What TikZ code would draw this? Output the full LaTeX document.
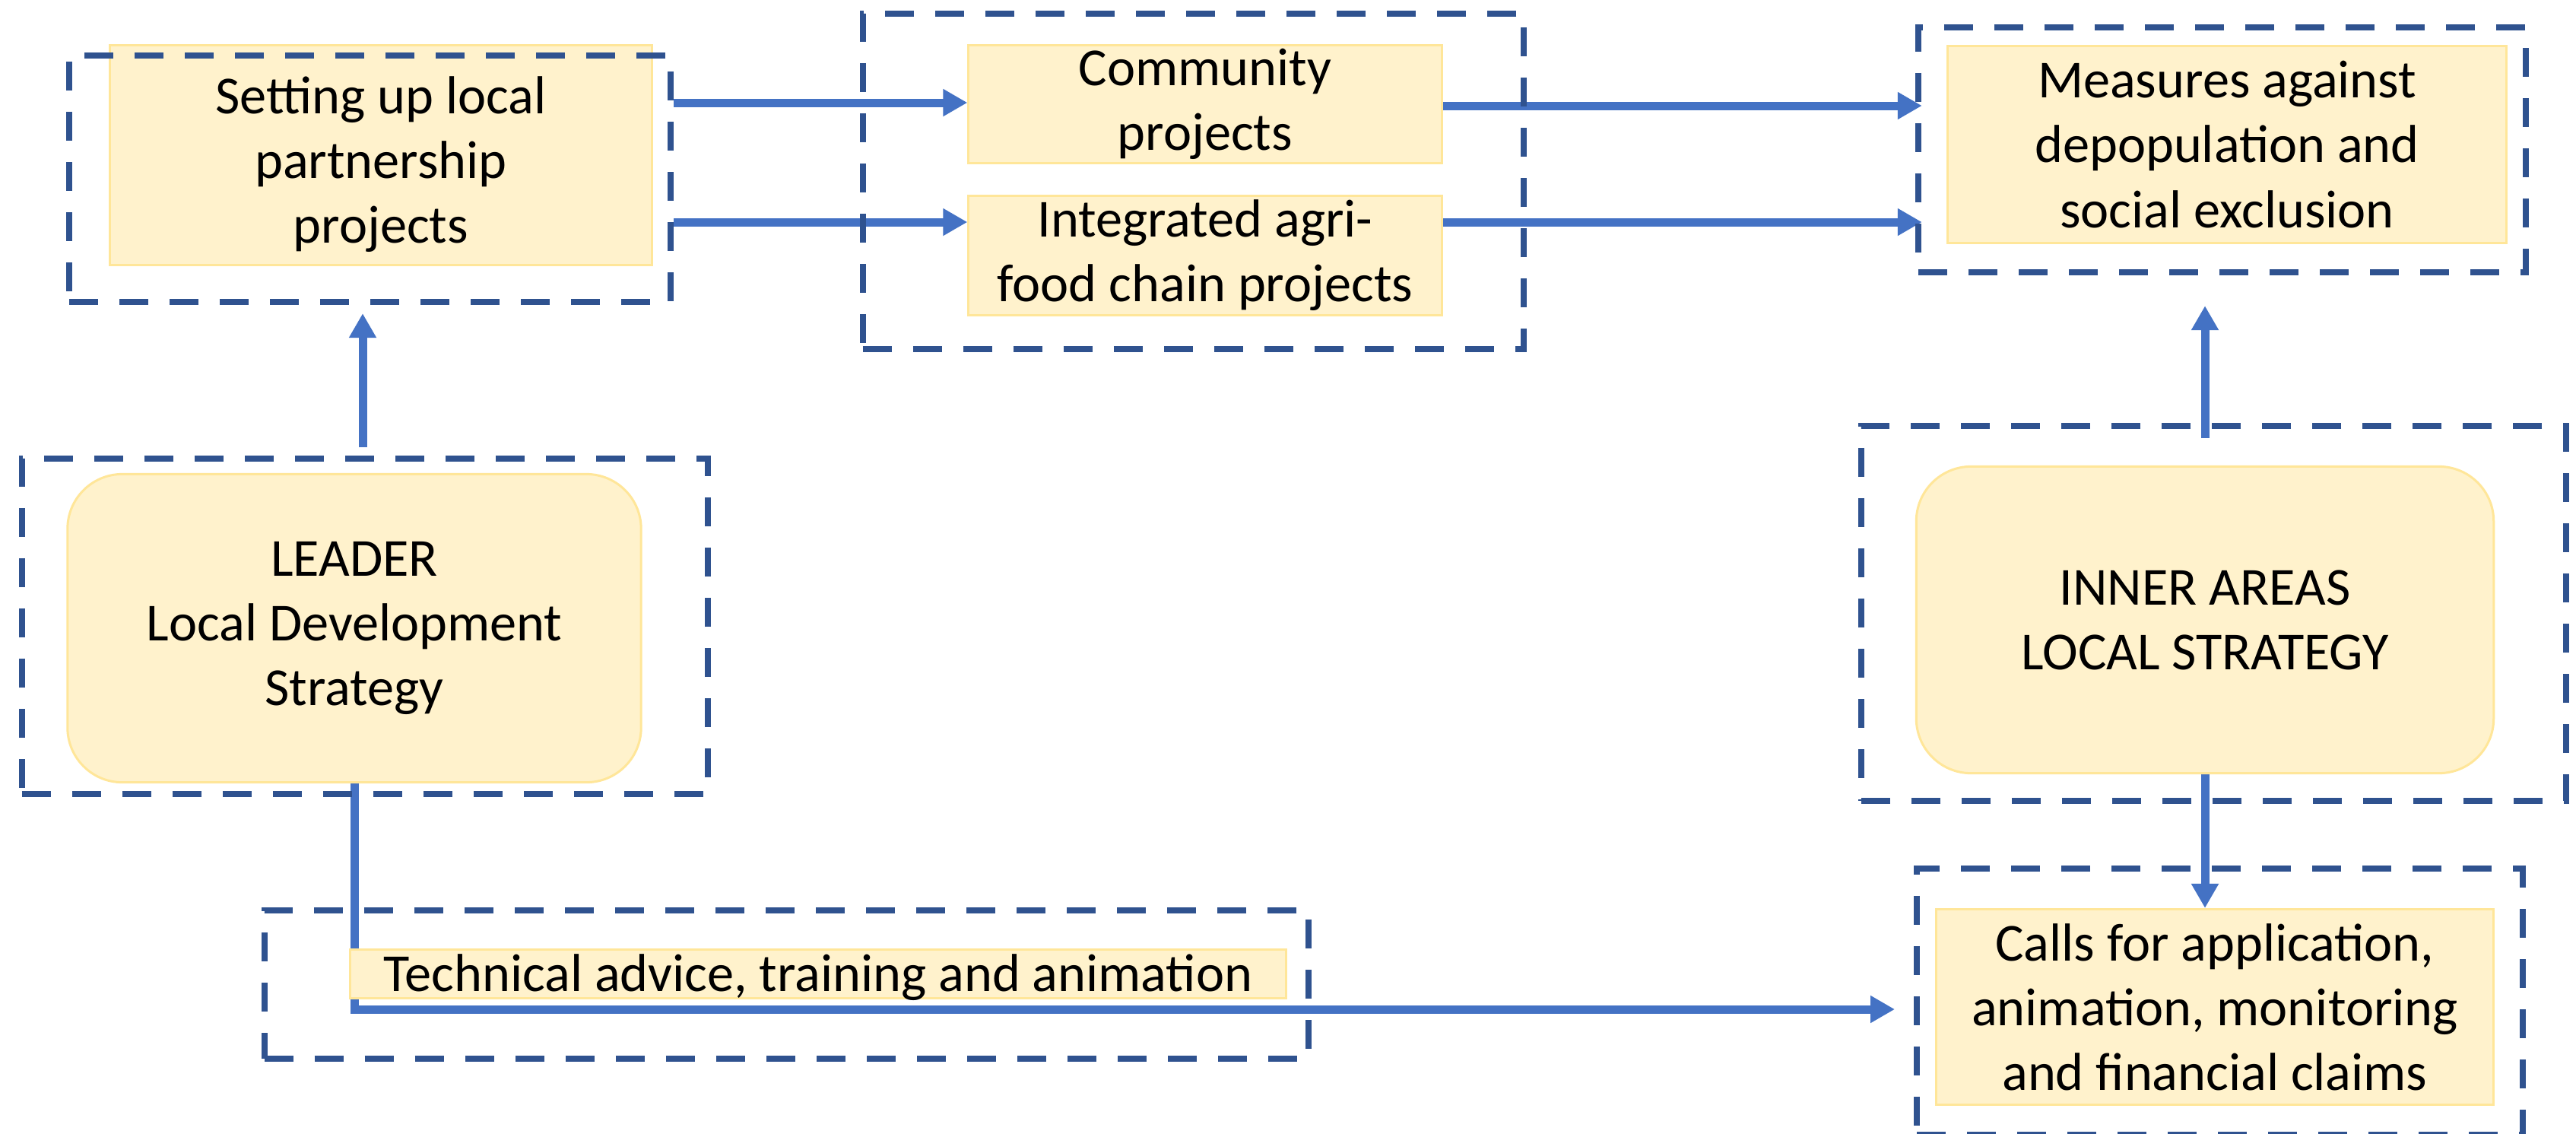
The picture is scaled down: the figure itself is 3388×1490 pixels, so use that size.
\documentclass[tikz,border=0pt]{standalone}
\usepackage{fontspec}
\setmainfont{Carlito}
\usetikzlibrary{arrows.meta,calc}
\pgfdeclarelayer{bgfill}
\pgfdeclarelayer{background}
\pgfsetlayers{bgfill,background,main}
\definecolor{dashblue}{RGB}{47,82,143}
\definecolor{arrowblue}{RGB}{68,114,196}
\definecolor{fillyellow}{RGB}{255,242,204}
\definecolor{borderyellow}{RGB}{255,230,153}
\begin{document}
\begin{tikzpicture}[x=0.01cm,y=-0.01cm,
  ybox/.style={draw=borderyellow,fill=fillyellow,line width=0.03cm,align=center,
    inner sep=0pt,font=\fontsize{20}{24.2}\selectfont},
  rbox/.style={ybox,rounded corners=0.72cm},
  dbox/.style={draw=dashblue,line width=0.08cm,dash pattern=on 0.38cm off 0.28cm,inner sep=0pt},
  arr/.style={draw=arrowblue,line width=0.11cm,-{Triangle[length=0.32cm,width=0.34cm]}},
  ln/.style={draw=arrowblue,line width=0.11cm}]
\useasboundingbox (0,0) rectangle (3388,1490);
\begin{pgfonlayer}{bgfill}
\fill[white] (0,0) rectangle (3388,1490);
\end{pgfonlayer}

% yellow boxes
\node[ybox,minimum width=7.12cm,minimum height=2.88cm] (setup) at (501,204) {\rule{0pt}{0.73cm}Setting up local\\partnership\\projects};
\node[ybox,minimum width=6.22cm,minimum height=1.54cm] (community) at (1585,137) {Community\\projects};
\node[ybox,minimum width=6.22cm,minimum height=1.56cm] (integrated) at (1585,336) {Integrated agri-\\food chain projects};
\node[ybox,minimum width=7.34cm,minimum height=2.59cm] (measures) at (2929,190) {Measures against\\depopulation and\\social exclusion};
\node[rbox,minimum width=7.54cm,minimum height=4.05cm] (leader) at (466,826) {LEADER\\Local Development\\Strategy};
\node[rbox,minimum width=7.59cm,minimum height=4.03cm] (inner) at (2900,815) {INNER AREAS\\LOCAL STRATEGY};
\node[ybox,minimum width=7.33cm,minimum height=2.57cm] (calls) at (2913,1324) {Calls for application,\\animation, monitoring\\and financial claims};
\node[ybox,minimum width=12.31cm,text height=0.55cm,text depth=0.09cm] (tech) at (1076,1280) {Technical advice, training and animation};

% dashed frames
\node[dbox,minimum width=7.91cm,minimum height=3.24cm] (setupD) at (486.5,235) {};
\node[dbox,minimum width=8.69cm,minimum height=4.41cm] (midD) at (1569.5,238.5) {};
\node[dbox,minimum width=7.99cm,minimum height=3.22cm] (measD) at (2922.5,197) {};
\node[dbox,minimum width=9.02cm,minimum height=4.41cm] (leaderD) at (480,823.5) {};
\node[dbox,minimum width=9.27cm,minimum height=4.93cm] (innerD) at (2911.5,806.5) {};
\node[dbox,minimum width=7.97cm,minimum height=3.50cm] (callsD) at (2919.5,1317) {};
\node[dbox,minimum width=13.73cm,minimum height=1.95cm] (techD) at (1034.5,1294.5) {};

% helper coordinates
\coordinate (ya) at (0,135);
\coordinate (yb) at (0,292);
\coordinate (yc) at (0,139);
\coordinate (up1) at (477,588);
\coordinate (up2) at (2900,576);
\coordinate (ycorner) at (0,1327);
\coordinate (tipcalls) at (2492,1327);

\begin{pgfonlayer}{background}
\draw[arr] (setupD.east |- ya) -- (community.west |- ya);
\draw[arr] (setupD.east |- yb) -- (integrated.west |- yb);
\draw[arr,shorten >=-0.09cm] (community.east |- yc) -- (measD.west |- yc);
\draw[arr,shorten >=-0.09cm] (integrated.east |- yb) -- (measD.west |- yb);
\draw[arr,shorten >=0.11cm] (up1) -- (setupD.south -| up1);
\draw[arr,shorten >=0.40cm] (up2) -- (measD.south -| up2);
\draw[arr] (leader.south) -- (leader.south |- ycorner) -- (tipcalls);
\draw[arr] (inner.south) -- (calls.north -| inner.south);
\end{pgfonlayer}
\end{tikzpicture}
\end{document}
